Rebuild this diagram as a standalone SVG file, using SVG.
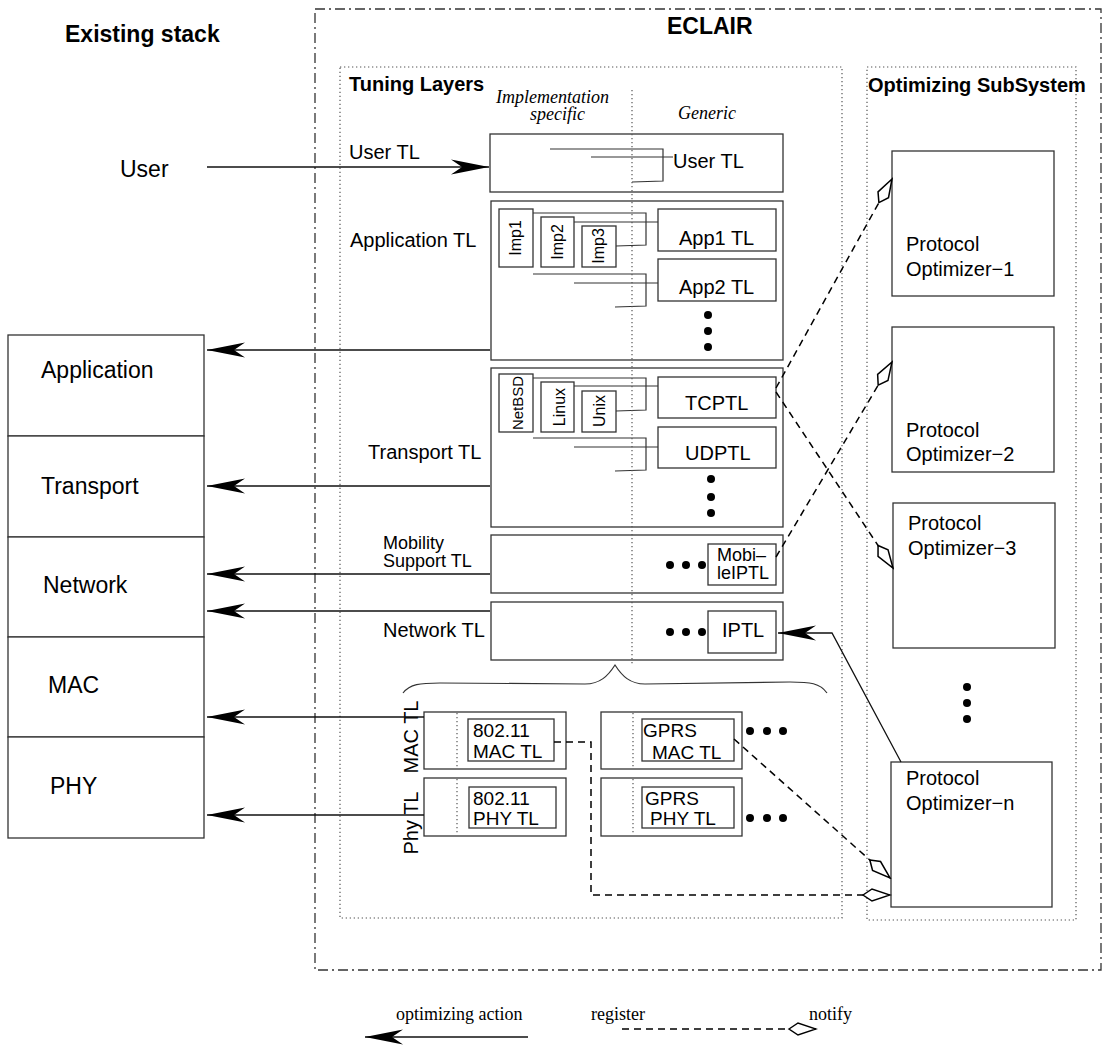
<svg xmlns="http://www.w3.org/2000/svg" width="1103" height="1047" viewBox="0 0 1103 1047">
<defs>
<style>
.b{fill:#fff;stroke:#333;stroke-width:1.3}
.t{font-family:"Liberation Sans",Arial,sans-serif;font-size:20px;fill:#000}
.s{font-size:23px}
.bd{font-weight:bold}
.it{font-family:"Liberation Serif","Times New Roman",serif;font-style:italic;font-size:18px;fill:#000}
.ser{font-family:"Liberation Serif","Times New Roman",serif;font-size:18px;fill:#000}
.r16{font-size:16px}
.r15{font-size:15px}
.r18{font-size:18px}
.r19{font-size:19px}
.dot{fill:none;stroke:#555;stroke-width:1.2;stroke-dasharray:1.3 2.7}
.dd{fill:none;stroke:#333;stroke-width:1.3;stroke-dasharray:10 4 2 4}
.ln{fill:none;stroke:#333;stroke-width:1.2}
.arr{fill:none;stroke:#111;stroke-width:1.3;marker-end:url(#ah)}
.dsh{fill:none;stroke:#000;stroke-width:1.5;stroke-dasharray:7 5;marker-end:url(#kite)}
.pt{fill:#000}
</style>
<marker id="ah" viewBox="-40 -9 42 18" markerWidth="42" markerHeight="18" refX="0" refY="0" orient="auto" markerUnits="userSpaceOnUse"><path d="M0,0 L-38,-7.5 L-27,0 L-38,7.5 Z" fill="#000" stroke="none"/></marker>
<marker id="kite" viewBox="-2 -8 31 16" markerWidth="31" markerHeight="16" refX="27" refY="0" orient="auto" markerUnits="userSpaceOnUse"><path d="M0,0 L9,-6 L27,0 L9,6 Z" fill="#fff" stroke="#000" stroke-width="1.5" stroke-dasharray="none"/></marker>
</defs>
<rect width="1103" height="1047" fill="#fff"/>

<!-- containers -->
<g id="eclair">
<rect class="dd" x="315" y="9" width="786" height="961"/>
<text class="t s bd" x="667" y="34">ECLAIR</text>
</g>
<g id="tuning-layers">
<rect class="dot" x="340" y="67" width="502" height="851"/>
<text class="t bd" x="349" y="91">Tuning Layers</text>
<text class="it" x="496" y="103">Implementation</text>
<text class="it" x="530" y="120">specific</text>
<text class="it" x="678" y="119">Generic</text>
</g>
<g id="optimizing-subsystem">
<rect class="dot" x="867" y="67" width="209" height="853"/>
<text class="t bd" x="868" y="92">Optimizing SubSystem</text>
</g>

<!-- existing stack -->
<g id="existing-stack">
<text class="t s bd" x="65" y="42">Existing stack</text>
<text class="t s" x="120" y="177">User</text>
</g>
<g id="stack-application"><rect class="b" x="8" y="335" width="196" height="101"/><text class="t s" x="41" y="378">Application</text></g>
<g id="stack-transport"><rect class="b" x="8" y="436" width="196" height="101"/><text class="t s" x="41" y="494">Transport</text></g>
<g id="stack-network"><rect class="b" x="8" y="537" width="196" height="100"/><text class="t s" x="43" y="593">Network</text></g>
<g id="stack-mac"><rect class="b" x="8" y="637" width="196" height="100"/><text class="t s" x="48" y="693">MAC</text></g>
<g id="stack-phy"><rect class="b" x="8" y="737" width="196" height="101"/><text class="t s" x="50" y="794">PHY</text></g>

<!-- tuning layer labels -->
<g id="tl-labels">
<text class="t" x="349" y="159">User TL</text>
<text class="t" x="350" y="247">Application TL</text>
<text class="t" x="368" y="459">Transport TL</text>
<text class="t r18" x="383" y="549">Mobility</text>
<text class="t r18" x="383" y="567">Support TL</text>
<text class="t" x="383" y="637">Network TL</text>
<text class="t" transform="translate(418,737) rotate(-90)" text-anchor="middle">MAC TL</text>
<text class="t" transform="translate(418,823) rotate(-90)" text-anchor="middle">Phy TL</text>
</g>

<!-- User TL -->
<g id="user-tl">
<rect class="b" x="490" y="134" width="293" height="58"/>
<polyline class="ln" points="550,149 663,149 663,181 632,182"/>
<line class="ln" x1="591" y1="157" x2="673" y2="157"/>
<text class="t" x="673" y="168">User TL</text>
</g>

<!-- Application TL -->
<g id="application-tl">
<rect class="b" x="491" y="201" width="292" height="159"/>
<rect class="b" x="499" y="209" width="34" height="58"/>
<rect class="b" x="541" y="217" width="33" height="50"/>
<rect class="b" x="582" y="226" width="34" height="41"/>
<text class="t r16" transform="translate(521,238) rotate(-90)" text-anchor="middle">Imp1</text>
<text class="t r16" transform="translate(563,242) rotate(-90)" text-anchor="middle">Imp2</text>
<text class="t r16" transform="translate(604,246) rotate(-90)" text-anchor="middle">Imp3</text>
<rect class="b" x="658" y="209" width="118" height="42"/>
<text class="t" x="679" y="245">App1 TL</text>
<rect class="b" x="658" y="259" width="118" height="42"/>
<text class="t" x="679" y="294">App2 TL</text>
<polyline class="ln" points="533,213 646,213 646,245 616,246"/>
<line class="ln" x1="574" y1="222" x2="658" y2="222"/>
<polyline class="ln" points="533,274 646,274 646,306 615,307"/>
<line class="ln" x1="574" y1="283" x2="658" y2="283"/>
<circle class="pt" cx="708" cy="315" r="4"/>
<circle class="pt" cx="708" cy="331" r="4"/>
<circle class="pt" cx="708" cy="347" r="4"/>
</g>

<!-- Transport TL -->
<g id="transport-tl">
<rect class="b" x="491" y="368" width="292" height="159"/>
<rect class="b" x="499" y="374" width="34" height="58"/>
<rect class="b" x="541" y="382" width="33" height="50"/>
<rect class="b" x="582" y="391" width="34" height="41"/>
<text class="t r15" transform="translate(523,403) rotate(-90)" text-anchor="middle">NetBSD</text>
<text class="t r16" transform="translate(565,407) rotate(-90)" text-anchor="middle">Linux</text>
<text class="t r16" transform="translate(605,411) rotate(-90)" text-anchor="middle">Unix</text>
<rect class="b" x="658" y="377" width="118" height="41"/>
<text class="t" x="685" y="410">TCPTL</text>
<rect class="b" x="658" y="427" width="118" height="41"/>
<text class="t" x="685" y="460">UDPTL</text>
<polyline class="ln" points="533,378 646,378 646,410 616,411"/>
<line class="ln" x1="574" y1="386" x2="658" y2="386"/>
<polyline class="ln" points="533,438 646,438 646,470 615,471"/>
<line class="ln" x1="574" y1="447" x2="658" y2="447"/>
<circle class="pt" cx="711" cy="479" r="4"/>
<circle class="pt" cx="711" cy="497" r="4"/>
<circle class="pt" cx="711" cy="513" r="4"/>
</g>

<!-- Mobility Support TL -->
<g id="mobility-tl">
<rect class="b" x="491" y="535" width="292" height="58"/>
<rect class="b" x="708" y="544" width="68" height="41"/>
<text class="t r18" x="717" y="561">Mobi–</text>
<text class="t r18" x="717" y="579">leIPTL</text>
<circle class="pt" cx="670" cy="565" r="4"/>
<circle class="pt" cx="686" cy="565" r="4"/>
<circle class="pt" cx="702" cy="565" r="4"/>
</g>

<!-- Network TL -->
<g id="network-tl">
<rect class="b" x="491" y="602" width="292" height="58"/>
<rect class="b" x="708" y="611" width="68" height="42"/>
<text class="t" x="722" y="637">IPTL</text>
<circle class="pt" cx="670" cy="632" r="4"/>
<circle class="pt" cx="686" cy="632" r="4"/>
<circle class="pt" cx="702" cy="632" r="4"/>
</g>

<!-- generic / implementation divider -->
<line class="dot" x1="632" y1="90" x2="632" y2="665"/>

<!-- brace -->
<path class="ln" d="M403,693 C410,684 420,683 440,683 L585,684 C600,684 608,676 615,665 C622,676 630,684 645,684 L790,682 C810,682 820,683 827,693"/>

<!-- MAC / PHY TLs -->
<g id="mac-80211">
<rect class="b" x="424" y="712" width="142" height="57"/>
<line class="dot" x1="457" y1="713" x2="457" y2="768"/>
<rect class="b" x="468" y="719" width="86" height="42"/>
<text class="t r19" x="473" y="737">802.11</text>
<text class="t r19" x="473" y="758">MAC TL</text>
</g>
<g id="phy-80211">
<rect class="b" x="424" y="778" width="142" height="58"/>
<line class="dot" x1="457" y1="779" x2="457" y2="835"/>
<rect class="b" x="469" y="787" width="87" height="41"/>
<text class="t r19" x="473" y="805">802.11</text>
<text class="t r19" x="473" y="825">PHY TL</text>
</g>
<g id="mac-gprs">
<rect class="b" x="601" y="712" width="141" height="57"/>
<line class="dot" x1="633" y1="713" x2="633" y2="768"/>
<rect class="b" x="642" y="719" width="92" height="42"/>
<text class="t r19" x="643" y="737">GPRS</text>
<text class="t r19" x="652" y="759">MAC TL</text>
<circle class="pt" cx="750" cy="731" r="4"/>
<circle class="pt" cx="767" cy="731" r="4"/>
<circle class="pt" cx="783" cy="731" r="4"/>
</g>
<g id="phy-gprs">
<rect class="b" x="601" y="778" width="141" height="58"/>
<line class="dot" x1="633" y1="779" x2="633" y2="835"/>
<rect class="b" x="642" y="787" width="92" height="41"/>
<text class="t r19" x="645" y="805">GPRS</text>
<text class="t r19" x="650" y="825">PHY TL</text>
<circle class="pt" cx="750" cy="818" r="4"/>
<circle class="pt" cx="767" cy="818" r="4"/>
<circle class="pt" cx="783" cy="818" r="4"/>
</g>

<!-- Protocol optimizers -->
<g id="optimizer-1"><rect class="b" x="892" y="151" width="162" height="145"/><text class="t" x="906" y="251">Protocol</text><text class="t" x="906" y="276">Optimizer−1</text></g>
<g id="optimizer-2"><rect class="b" x="892" y="327" width="162" height="145"/><text class="t" x="906" y="437">Protocol</text><text class="t" x="906" y="461">Optimizer−2</text></g>
<g id="optimizer-3"><rect class="b" x="893" y="503" width="162" height="145"/><text class="t" x="908" y="530">Protocol</text><text class="t" x="908" y="555">Optimizer−3</text></g>
<g id="optimizer-dots">
<circle class="pt" cx="967" cy="687" r="4"/>
<circle class="pt" cx="967" cy="703" r="4"/>
<circle class="pt" cx="967" cy="719" r="4"/>
</g>
<g id="optimizer-n"><rect class="b" x="891" y="762" width="161" height="145"/><text class="t" x="906" y="785">Protocol</text><text class="t" x="906" y="810">Optimizer−n</text></g>

<!-- connectors -->
<g id="connectors">
<line class="arr" x1="207" y1="167" x2="489" y2="167"/>
<line class="arr" x1="490" y1="350" x2="207" y2="350"/>
<line class="arr" x1="490" y1="486" x2="207" y2="486"/>
<line class="arr" x1="490" y1="574" x2="207" y2="574"/>
<line class="arr" x1="490" y1="611" x2="207" y2="611"/>
<line class="arr" x1="424" y1="717" x2="207" y2="717"/>
<line class="arr" x1="424" y1="815" x2="207" y2="815"/>
<polyline class="arr" points="901,762 832,633 778,633"/>
<line class="dsh" x1="776" y1="388" x2="892" y2="179"/>
<line class="dsh" x1="776" y1="392" x2="893" y2="568"/>
<line class="dsh" x1="776" y1="557" x2="892" y2="362"/>
<line class="dsh" x1="734" y1="739" x2="890" y2="878"/>
<polyline class="dsh" points="554,742 591,742 591,895 890,895"/>
</g>

<!-- legend -->
<g id="legend">
<text class="ser" x="396" y="1020">optimizing action</text>
<line class="arr" x1="528" y1="1037" x2="365" y2="1037"/>
<text class="ser" x="591" y="1020">register</text>
<text class="ser" x="809" y="1020">notify</text>
<line class="dsh" x1="622" y1="1029" x2="816" y2="1029"/>
</g>
</svg>
